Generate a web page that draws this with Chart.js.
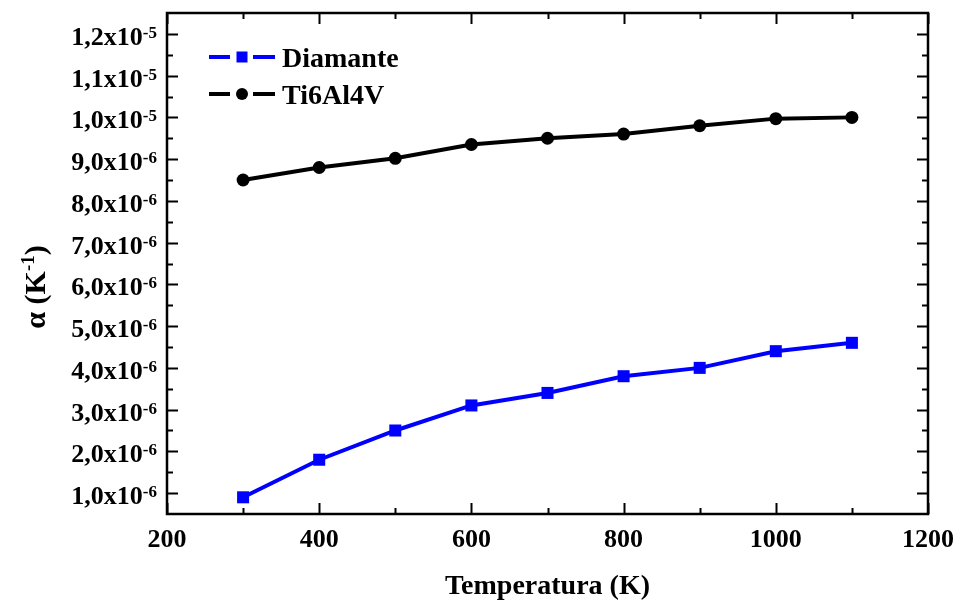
<!DOCTYPE html>
<html>
<head>
<meta charset="utf-8">
<script src="https://cdn.jsdelivr.net/npm/chart.js@4"></script>
<style>
	html, body { margin: 0; padding: 0; background: #fff; }
	#wrap { width: 958px; height: 600px; }
</style>
</head>
<body>
<div id="wrap"><canvas id="myChart" width="958" height="600"></canvas></div>
<script>
// data
const temps = [300, 400, 500, 600, 700, 800, 900, 1000, 1100];
const diamante = [0.9e-6, 1.8e-6, 2.5e-6, 3.1e-6, 3.4e-6, 3.8e-6, 4.0e-6, 4.4e-6, 4.6e-6];
const ti6al4v = [8.5e-6, 8.8e-6, 9.02e-6, 9.35e-6, 9.5e-6, 9.6e-6, 9.8e-6, 9.97e-6, 10.0e-6];

const xTicks = [200, 400, 600, 800, 1000, 1200];
const xMinorTicks = [300, 500, 700, 900, 1100];
const yTicks = [1e-6, 2e-6, 3e-6, 4e-6, 5e-6, 6e-6, 7e-6, 8e-6, 9e-6, 1e-5, 1.1e-5, 1.2e-5];
const yTickMantissas = ['1,0', '2,0', '3,0', '4,0', '5,0', '6,0', '7,0', '8,0', '9,0', '1,0', '1,1', '1,2'];
const yTickExps = ['-6', '-6', '-6', '-6', '-6', '-6', '-6', '-6', '-6', '-5', '-5', '-5'];
const yMinorTicks = [1.5e-6, 2.5e-6, 3.5e-6, 4.5e-6, 5.5e-6, 6.5e-6, 7.5e-6, 8.5e-6, 9.5e-6, 1.05e-5, 1.15e-5];

const COLORS = {
	blue: '#0000ff',
	black: '#000000'
};
const FONT = '"Liberation Serif", "Times New Roman", serif';

const toPoints = (ys) => temps.map((t, i) => ({ x: t, y: ys[i] }));

// frame, inward ticks, labels, titles and legend
const decorations = {
	id: 'decorations',
	afterDraw(chart) {
		const { ctx, chartArea: a, scales } = chart;
		const xs = scales.x, ys = scales.y;
		ctx.save();
		ctx.strokeStyle = '#000';
		ctx.fillStyle = '#000';

		// frame
		ctx.lineWidth = 2.5;
		ctx.strokeRect(a.left, a.top, a.right - a.left, a.bottom - a.top);

		// ticks
		ctx.lineWidth = 2;
		const tickX = (v, len) => {
			const px = Math.round(xs.getPixelForValue(v)) + 0.5;
			ctx.beginPath();
			ctx.moveTo(px, a.bottom); ctx.lineTo(px, a.bottom - len);
			ctx.moveTo(px, a.top); ctx.lineTo(px, a.top + len);
			ctx.stroke();
		};
		const tickY = (v, len) => {
			const py = Math.round(ys.getPixelForValue(v)) + 0.5;
			ctx.beginPath();
			ctx.moveTo(a.left, py); ctx.lineTo(a.left + len, py);
			ctx.moveTo(a.right, py); ctx.lineTo(a.right - len, py);
			ctx.stroke();
		};
		xTicks.forEach(v => tickX(v, 11));
		xMinorTicks.forEach(v => tickX(v, 6));
		yTicks.forEach(v => tickY(v, 11));
		yMinorTicks.forEach(v => tickY(v, 6));

		// x tick labels
		ctx.font = 'bold 26px ' + FONT;
		ctx.textAlign = 'center';
		ctx.textBaseline = 'alphabetic';
		xTicks.forEach(v => {
			ctx.fillText(String(v), xs.getPixelForValue(v), 547);
		});

		// y tick labels with superscript exponent
		const supFont = 'bold 17px ' + FONT;
		const mainFont = 'bold 26px ' + FONT;
		yTicks.forEach((v, i) => {
			const py = ys.getPixelForValue(v);
			const main = yTickMantissas[i] + 'x10';
			ctx.font = supFont;
			const supW = ctx.measureText(yTickExps[i]).width;
			ctx.font = mainFont;
			const mainW = ctx.measureText(main).width;
			const right = 157;
			ctx.textAlign = 'left';
			ctx.fillText(main, right - supW - mainW, py + 11);
			ctx.font = supFont;
			ctx.fillText(yTickExps[i], right - supW, py + 4);
		});

		// x title
		ctx.font = 'bold 28px ' + FONT;
		ctx.textAlign = 'center';
		ctx.fillText('Temperatura (K)', (a.left + a.right) / 2, 594);

		// y title, rotated
		ctx.save();
		ctx.translate(45, 287);
		ctx.rotate(-Math.PI / 2);
		const bigT = 'bold 30px ' + FONT;
		const smallT = 'bold 19px ' + FONT;
		const t1 = 'α (K';
		const t2 = '-1';
		const t3 = ')';
		ctx.font = bigT;
		const w1 = ctx.measureText(t1).width;
		const w3 = ctx.measureText(t3).width;
		ctx.font = smallT;
		const w2 = ctx.measureText(t2).width;
		let sx = -(w1 + w2 + w3) / 2;
		ctx.textAlign = 'left';
		ctx.font = bigT;
		ctx.fillText(t1, sx, 0);
		ctx.font = smallT;
		ctx.fillText(t2, sx + w1, -11);
		ctx.font = bigT;
		ctx.fillText(t3, sx + w1 + w2, 0);
		ctx.restore();

		// legend
		const legend = [
			{ label: 'Diamante', color: COLORS.blue, shape: 'rect', y: 57 },
			{ label: 'Ti6Al4V', color: COLORS.black, shape: 'circle', y: 94 }
		];
		legend.forEach(item => {
			ctx.strokeStyle = item.color;
			ctx.fillStyle = item.color;
			ctx.lineWidth = 4;
			ctx.beginPath();
			ctx.moveTo(209, item.y); ctx.lineTo(230, item.y);
			ctx.moveTo(253, item.y); ctx.lineTo(275, item.y);
			ctx.stroke();
			if (item.shape === 'rect') {
				ctx.fillRect(242 - 5.5, item.y - 5.5, 11, 11);
			} else {
				ctx.beginPath();
				ctx.arc(242, item.y, 6, 0, Math.PI * 2);
				ctx.fill();
			}
			ctx.fillStyle = '#000';
			ctx.font = 'bold 28px ' + FONT;
			ctx.textAlign = 'left';
			ctx.fillText(item.label, 282, item.y + 10);
		});

		ctx.restore();
	}
};

const ctx = document.getElementById('myChart');
new Chart(ctx, {
	type: 'line',
	data: {
		datasets: [
			{
				label: 'Diamante',
				data: toPoints(diamante),
				borderColor: COLORS.blue,
				backgroundColor: COLORS.blue,
				borderWidth: 4,
				pointStyle: 'rect',
				pointRadius: 8.5,
				pointBorderWidth: 0,
				tension: 0
			},
			{
				label: 'Ti6Al4V',
				data: toPoints(ti6al4v),
				borderColor: COLORS.black,
				backgroundColor: COLORS.black,
				borderWidth: 4,
				pointStyle: 'circle',
				pointRadius: 6.5,
				pointBorderWidth: 0,
				tension: 0
			}
		]
	},
	options: {
		responsive: false,
		animation: false,
		devicePixelRatio: 1,
		layout: {
			padding: { top: 13, right: 30, bottom: 86, left: 167 }
		},
		plugins: {
			legend: { display: false },
			tooltip: { enabled: false }
		},
		scales: {
			x: { type: 'linear', min: 200, max: 1200, display: false },
			y: { type: 'linear', min: 0.5e-6, max: 1.25e-5, display: false }
		}
	},
	plugins: [decorations]
});
</script>
</body>
</html>
